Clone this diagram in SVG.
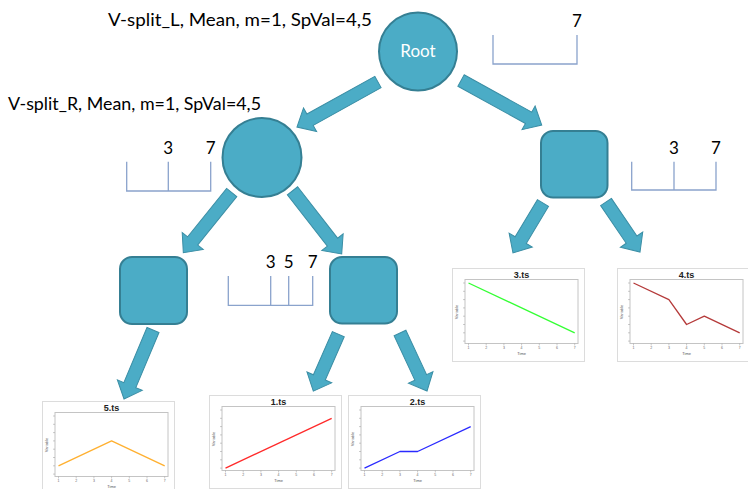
<svg xmlns="http://www.w3.org/2000/svg" width="748" height="489" viewBox="0 0 748 489">
<style>
.node{fill:#4bacc6;stroke:#357f93;stroke-width:2}
.arrow{fill:#4bacc6;stroke:#3b8ea5;stroke-width:1}
.lbl{font-family:Lato,"Liberation Sans",sans-serif;font-size:17px;fill:#000}
.num{font-family:Lato,"Liberation Sans",sans-serif;font-size:17px;fill:#000;text-anchor:middle}
.br{fill:none;stroke:#8aa3cc;stroke-width:1.3}
.frame{fill:#fff;stroke:#dcdcdc;stroke-width:1}
.plot{fill:none;stroke:#c4c4c4;stroke-width:1}
.ttl{font-family:"Liberation Sans",Arial,sans-serif;font-size:9px;font-weight:bold;fill:#222;text-anchor:middle}
.tk{font-family:"Liberation Sans",Arial,sans-serif;font-size:3.5px;fill:#666;text-anchor:middle}
.ax{font-family:"Liberation Sans",Arial,sans-serif;font-size:4px;fill:#555;text-anchor:middle}
.tm{stroke:#999;stroke-width:0.5}
.ser{fill:none;stroke-width:1.3;stroke-linejoin:round}
</style>
<defs>
<g id="chartbase">
<rect class="frame" x="0.5" y="0.5" width="132" height="93"/>
<rect class="plot" x="13" y="11.5" width="113" height="64"/>
<g class="tm">
<line x1="16.5" y1="75.5" x2="16.5" y2="77.5"/><line x1="34.2" y1="75.5" x2="34.2" y2="77.5"/><line x1="51.9" y1="75.5" x2="51.9" y2="77.5"/><line x1="69.6" y1="75.5" x2="69.6" y2="77.5"/><line x1="87.3" y1="75.5" x2="87.3" y2="77.5"/><line x1="105" y1="75.5" x2="105" y2="77.5"/><line x1="122.7" y1="75.5" x2="122.7" y2="77.5"/>
<line x1="11" y1="15" x2="13" y2="15"/><line x1="11" y1="23.3" x2="13" y2="23.3"/><line x1="11" y1="31.6" x2="13" y2="31.6"/><line x1="11" y1="39.9" x2="13" y2="39.9"/><line x1="11" y1="48.2" x2="13" y2="48.2"/><line x1="11" y1="56.5" x2="13" y2="56.5"/><line x1="11" y1="64.8" x2="13" y2="64.8"/><line x1="11" y1="73.1" x2="13" y2="73.1"/>
</g>
<g class="tk">
<text x="16.5" y="81">1</text><text x="34.2" y="81">2</text><text x="51.9" y="81">3</text><text x="69.6" y="81">4</text><text x="87.3" y="81">5</text><text x="105" y="81">6</text><text x="122.7" y="81">7</text>
</g>
<text class="ax" x="69.6" y="87">Time</text>
<text class="ax" transform="translate(5.5,44) rotate(-90)">Variable</text>
</g>
</defs>

<g id="connectors">
<polygon class="arrow" transform="translate(378,82) rotate(150.95)" points="0,-6.5 77.7,-6.5 77.7,-13.5 92.7,0 77.7,13.5 77.7,6.5 0,6.5"/>
<polygon class="arrow" transform="translate(461,80.5) rotate(28.9)" points="0,-6.5 77.2,-6.5 77.2,-13.5 92.2,0 77.2,13.5 77.2,6.5 0,6.5"/>
<polygon class="arrow" transform="translate(231.7,192.5) rotate(128.8)" points="0,-6.5 62.2,-6.5 62.2,-13.5 77.2,0 62.2,13.5 62.2,6.5 0,6.5"/>
<polygon class="arrow" transform="translate(292.5,190.8) rotate(52.1)" points="0,-6.5 65.1,-6.5 65.1,-13.5 80.1,0 65.1,13.5 65.1,6.5 0,6.5"/>
<polygon class="arrow" transform="translate(543,203) rotate(121)" points="0,-6.5 43.3,-6.5 43.3,-13.5 58.3,0 43.3,13.5 43.3,6.5 0,6.5"/>
<polygon class="arrow" transform="translate(606,202) rotate(55.8)" points="0,-6.5 45.5,-6.5 45.5,-13.5 60.5,0 45.5,13.5 45.5,6.5 0,6.5"/>
<polygon class="arrow" transform="translate(153,330) rotate(112.8)" points="0,-6.5 59.8,-6.5 59.8,-13.5 74.8,0 59.8,13.5 59.8,6.5 0,6.5"/>
<polygon class="arrow" transform="translate(338.3,334.2) rotate(113.7)" points="0,-6.5 47.2,-6.5 47.2,-13.5 62.2,0 47.2,13.5 47.2,6.5 0,6.5"/>
<polygon class="arrow" transform="translate(400,333) rotate(65)" points="0,-6.5 49,-6.5 49,-13.5 64,0 49,13.5 49,6.5 0,6.5"/>
</g>

<g id="labels">
<text class="lbl" x="108" y="26" textLength="264" lengthAdjust="spacingAndGlyphs">V-split_L, Mean, m=1, SpVal=4,5</text>
<text class="lbl" x="8" y="110" textLength="253" lengthAdjust="spacingAndGlyphs">V-split_R, Mean, m=1, SpVal=4,5</text>
</g>

<g id="root">
<circle class="node" cx="418" cy="51.5" r="39"/>
<text x="418" y="57" fill="#fff" font-family="Lato,'Liberation Sans',sans-serif" font-size="17" text-anchor="middle">Root</text>
</g>
<g id="split-root">
<path class="br" d="M493,35 V64 H577 V35"/>
<text class="num" x="577" y="27">7</text>
</g>

<g id="left-node">
<circle class="node" cx="262" cy="157.5" r="39.5"/>
</g>
<g id="split-left">
<path class="br" d="M126.7,161.7 V191 H210.7 V161.7 M168.3,161.7 V191"/>
<text class="num" x="168.3" y="154">3</text>
<text class="num" x="210.7" y="154">7</text>
</g>

<g id="right-node">
<rect class="node" x="541" y="131" width="66.5" height="66.5" rx="12"/>
</g>
<g id="split-right">
<path class="br" d="M631.7,161.7 V190 H716 V161.7 M674,161.7 V190"/>
<text class="num" x="674" y="154">3</text>
<text class="num" x="716" y="154">7</text>
</g>

<g id="left-leaf">
<rect class="node" x="120" y="257" width="67" height="67" rx="12"/>
</g>
<g id="mid-node">
<rect class="node" x="330" y="257" width="67" height="66.5" rx="12"/>
</g>
<g id="split-mid">
<path class="br" d="M228.3,276 V305.3 H312.7 V276 M270.7,276 V305.3 M288.7,276 V305.3"/>
<text class="num" x="270.7" y="268.3">3</text>
<text class="num" x="288.7" y="268.3">5</text>
<text class="num" x="312.7" y="268.3">7</text>
</g>

<g id="chart-5" transform="translate(42,401)">
<use href="#chartbase"/>
<text class="ttl" x="69.6" y="10">5.ts</text>
<polyline class="ser" stroke="#ffb030" points="16.5,64.8 69.6,39.9 122.7,64.8"/>
</g>
<g id="chart-1" transform="translate(209,395)">
<use href="#chartbase"/>
<text class="ttl" x="69.6" y="10">1.ts</text>
<polyline class="ser" stroke="#ff2a2a" points="16.5,73.1 122.7,23.3"/>
</g>
<g id="chart-2" transform="translate(348,395)">
<use href="#chartbase"/>
<text class="ttl" x="69.6" y="10">2.ts</text>
<polyline class="ser" stroke="#2a2aff" points="16.5,73.1 51.9,56.5 69.6,56.5 122.7,31.6"/>
</g>
<g id="chart-3" transform="translate(452,268)">
<use href="#chartbase"/>
<text class="ttl" x="69.6" y="10">3.ts</text>
<polyline class="ser" stroke="#33ff33" points="16.5,15 122.7,64.8"/>
</g>
<g id="chart-4" transform="translate(617,268)">
<use href="#chartbase"/>
<text class="ttl" x="69.6" y="10">4.ts</text>
<polyline class="ser" stroke="#b53a3a" points="16.5,15 51.9,31.6 69.6,56.5 87.3,48.2 122.7,64.8"/>
</g>
</svg>
